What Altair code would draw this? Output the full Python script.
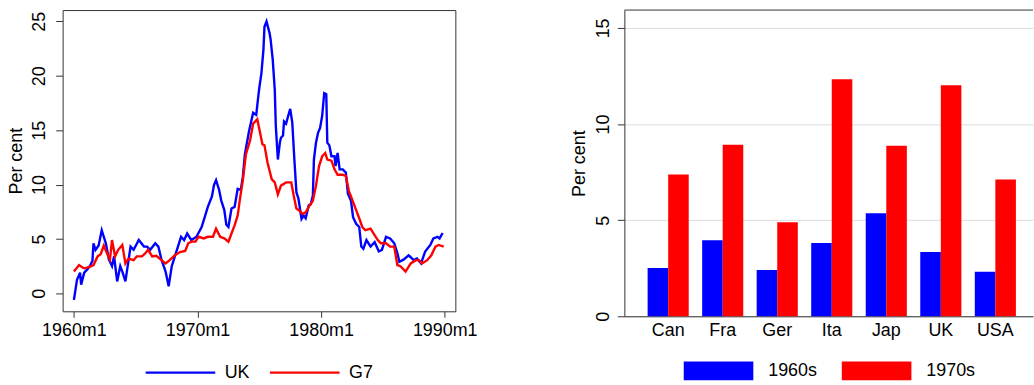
import altair as alt
import pandas as pd

# ---- Left panel: monthly inflation, months since 1960m1 ----
uk_month = [0, 3, 6, 7, 10, 13, 16, 18, 19, 21, 24, 27, 31, 34, 37, 39, 42, 45, 47, 50,
            55, 58, 63, 68, 71, 74, 79, 82, 85, 89, 92, 95, 98, 101, 104, 107, 110, 114, 119, 124,
            127, 130, 134, 136, 138, 141, 143, 146, 148, 150, 153, 156, 159, 162, 164, 166, 170, 174, 177, 179,
            180, 182, 184, 185, 187, 190, 191, 193, 195, 196, 198, 200, 201, 203, 204, 206, 208, 210, 212, 214,
            216, 218, 221, 223, 225, 228, 230, 232, 233, 235, 237, 239, 241, 243, 245, 246, 248, 250, 253, 254,
            256, 258, 261, 264, 266, 269, 271, 274, 277, 279, 281, 284, 288, 292, 296, 299, 303, 307, 311, 314,
            316, 320, 325, 330, 333, 337, 341, 346, 349, 353, 355, 358]
uk_value = [-0.6, 1.25, 1.9, 0.8, 1.9, 2.2, 2.6, 3.0, 4.6, 4.0, 4.4, 5.8, 4.6, 3.1, 2.5, 3.4, 1.1, 2.5, 2.0, 1.1,
            4.3, 4.0, 4.9, 4.3, 4.3, 4.0, 4.6, 4.3, 3.1, 2.0, 0.65, 2.5, 3.4, 4.3, 5.2, 4.9, 5.5, 4.9, 5.2, 6.1,
            7.0, 7.95, 8.9, 9.95, 10.4, 9.5, 8.55, 7.65, 6.3, 6.1, 7.8, 7.95, 9.6, 9.5, 10.7, 12.8, 14.9, 16.6, 16.4, 18.1,
            18.9, 20.2, 22.4, 24.5, 25.0, 23.9, 23.3, 21.5, 18.7, 15.4, 12.3, 13.9, 14.3, 14.5, 15.8, 15.6, 16.3, 16.95, 15.7, 12.35,
            9.3, 8.7, 6.85, 7.15, 6.9, 8.1, 8.2, 9.0, 12.3, 13.85, 14.75, 15.2, 16.3, 18.4, 18.3, 13.85, 13.6, 12.6, 12.6, 11.7,
            12.9, 11.4, 11.4, 11.1, 9.15, 8.5, 7.0, 6.4, 6.1, 4.3, 4.1, 4.9, 4.3, 4.7, 3.85, 4.0, 5.2, 5.05, 4.6, 3.7,
            2.9, 3.1, 3.5, 3.05, 3.2, 2.75, 3.85, 4.45, 5.05, 5.2, 5.05, 5.55]

g7_month = [0, 5, 8, 10, 16, 19, 23, 26, 29, 32, 35, 37, 40, 43, 47, 50, 53, 58, 61, 66,
            69, 72, 76, 80, 85, 89, 93, 98, 103, 108, 111, 114, 118, 121, 126, 130, 135, 138, 142, 146,
            150, 153, 156, 159, 161, 164, 167, 171, 174, 178, 180, 183, 185, 188, 192, 195, 198, 201, 206, 211,
            214, 216, 219, 222, 225, 229, 232, 235, 238, 241, 244, 246, 250, 253, 256, 261, 264, 267, 269, 274,
            277, 280, 283, 288, 291, 295, 298, 303, 307, 311, 314, 317, 322, 327, 332, 335, 338, 343, 347, 351,
            354, 359]
g7_value = [2.0, 2.6, 2.4, 2.3, 2.45, 2.6, 3.4, 3.6, 4.4, 3.7, 3.1, 4.9, 3.4, 4.0, 4.45, 2.75, 3.2, 3.05, 3.4, 3.4,
            3.65, 4.0, 3.4, 3.45, 3.05, 2.75, 3.05, 3.5, 3.8, 3.9, 4.6, 4.75, 4.75, 5.2, 5.05, 5.2, 5.2, 5.95, 5.2, 5.05,
            4.75, 5.5, 6.25, 7.15, 8.55, 10.4, 12.8, 14.05, 15.6, 16.0, 15.1, 13.7, 13.6, 12.0, 10.5, 10.2, 9.1, 9.9, 10.2, 10.2,
            8.7, 7.8, 7.6, 7.3, 7.45, 8.1, 8.5, 9.9, 11.7, 12.6, 12.9, 12.3, 12.2, 11.4, 10.9, 10.9, 10.8, 9.4, 8.9, 7.65,
            6.9, 6.1, 5.8, 5.95, 5.5, 4.9, 4.6, 4.6, 4.3, 4.3, 2.6, 2.5, 2.0, 2.75, 3.05, 3.05, 2.75, 3.05, 3.5, 4.3,
            4.45, 4.3]

series_names = ["UK", "G7"]
year_ticks = [1960, 1970, 1980, 1990]
left_y_ticks = [0, 5, 10, 15, 20, 25]

# ---- Right panel: average inflation by decade ----
countries = ["Can", "Fra", "Ger", "Ita", "Jap", "UK", "USA"]
decades = ["1960s", "1970s"]
infl_1960s = [2.51, 3.96, 2.41, 3.81, 5.36, 3.34, 2.31]
infl_1970s = [7.37, 8.92, 4.89, 12.33, 8.87, 12.02, 7.11]
right_y_ticks = [0, 5, 10, 15]

BLUE = "#0000FF"
RED = "#FF0000"
FONT = "Liberation Sans"
FRAME = "#333333"
FS = 18

line_df = pd.concat([
    pd.DataFrame({"year": [1960 + m / 12 for m in uk_month], "value": uk_value, "series": "UK"}),
    pd.DataFrame({"year": [1960 + m / 12 for m in g7_month], "value": g7_value, "series": "G7"}),
], ignore_index=True)

bar_df = pd.concat([
    pd.DataFrame({"country": countries, "value": infl_1960s, "decade": decades[0]}),
    pd.DataFrame({"country": countries, "value": infl_1970s, "decade": decades[1]}),
], ignore_index=True)

line_color = alt.Color(
    "series:N",
    scale=alt.Scale(domain=series_names, range=[BLUE, RED]),
    legend=alt.Legend(
        title=None, orient="none", direction="horizontal", legendX=82, legendY=328,
        symbolType="stroke", symbolSize=4900, symbolStrokeWidth=2.3, labelOffset=8,
        columnPadding=14, padding=0, labelFontSize=FS, labelFont=FONT, labelColor="black",
    ),
)

line_base = alt.Chart(line_df).encode(
    x=alt.X("year:Q",
            scale=alt.Scale(domain=[1959.088, 1990.86], nice=False, zero=False),
            axis=alt.Axis(values=year_ticks, labelExpr="datum.value + 'm1'", title=None, grid=False,
                          domain=False, tickSize=6, labelPadding=4)),
    y=alt.Y("value:Q",
            scale=alt.Scale(domain=[-1.65, 26.04], nice=False, zero=False),
            axis=alt.Axis(values=left_y_ticks, title="Per cent", grid=False, domain=False, tickSize=7,
                          labelAngle=-90, labelAlign="center", labelBaseline="alphabetic", labelPadding=11,
                          titlePadding=5)),
    color=line_color,
)
uk_line = line_base.transform_filter("datum.series == 'UK'").mark_line(strokeWidth=2.4)
g7_line = line_base.transform_filter("datum.series == 'G7'").mark_line(strokeWidth=2.4)
left = alt.layer(uk_line, g7_line).properties(width=395, height=303)

bars = alt.Chart(bar_df).mark_bar().encode(
    x=alt.X("country:N", sort=countries,
            scale=alt.Scale(paddingInner=0.246, paddingOuter=0.37, align=0.576),
            axis=alt.Axis(title=None, labelAngle=0, ticks=False, labelPadding=5, grid=False)),
    xOffset=alt.XOffset("decade:N", sort=decades, scale=alt.Scale(paddingInner=0, paddingOuter=0)),
    y=alt.Y("value:Q", scale=alt.Scale(domain=[0, 15.93], nice=False),
            axis=alt.Axis(values=right_y_ticks, title="Per cent", grid=True, gridColor="#DDDDDD",
                          tickSize=7, labelAngle=-90, labelAlign="center", labelBaseline="alphabetic",
                          labelPadding=9, titlePadding=6)),
    color=alt.Color("decade:N",
                    scale=alt.Scale(domain=decades, range=[BLUE, RED]),
                    legend=alt.Legend(
                        title=None, orient="none", direction="horizontal", legendX=59.7, legendY=327.7,
                        symbolType="M-1,-0.271H1V0.271H-1Z", symbolSize=4900, symbolStrokeWidth=0,
                        labelOffset=15, columnPadding=24, padding=0, labelFontSize=FS,
                        labelFont=FONT, labelColor="black")),
)
top_line = alt.Chart(pd.DataFrame({"k": [0]})).mark_rule(color=FRAME, strokeWidth=1).encode(
    x=alt.value(0), x2=alt.value(411), y=alt.value(0)
)
right = alt.layer(bars, top_line).properties(
    width=411, height=308, view=alt.ViewBackground(stroke="transparent")
)

chart = alt.hconcat(left, right, spacing=170, bounds="flush").resolve_scale(
    color="independent"
).resolve_legend(color="independent").properties(
    padding={"left": 7, "top": 8, "right": 0, "bottom": 0}
).configure_axis(
    labelFont=FONT, titleFont=FONT, labelFontSize=FS, titleFontSize=FS,
    labelColor="black", titleColor="black", titleFontWeight="normal",
    domainColor=FRAME, tickColor=FRAME,
).configure_view(stroke=FRAME, strokeWidth=1)

chart.save("out.html", embed_options={"renderer": "svg", "actions": False})
